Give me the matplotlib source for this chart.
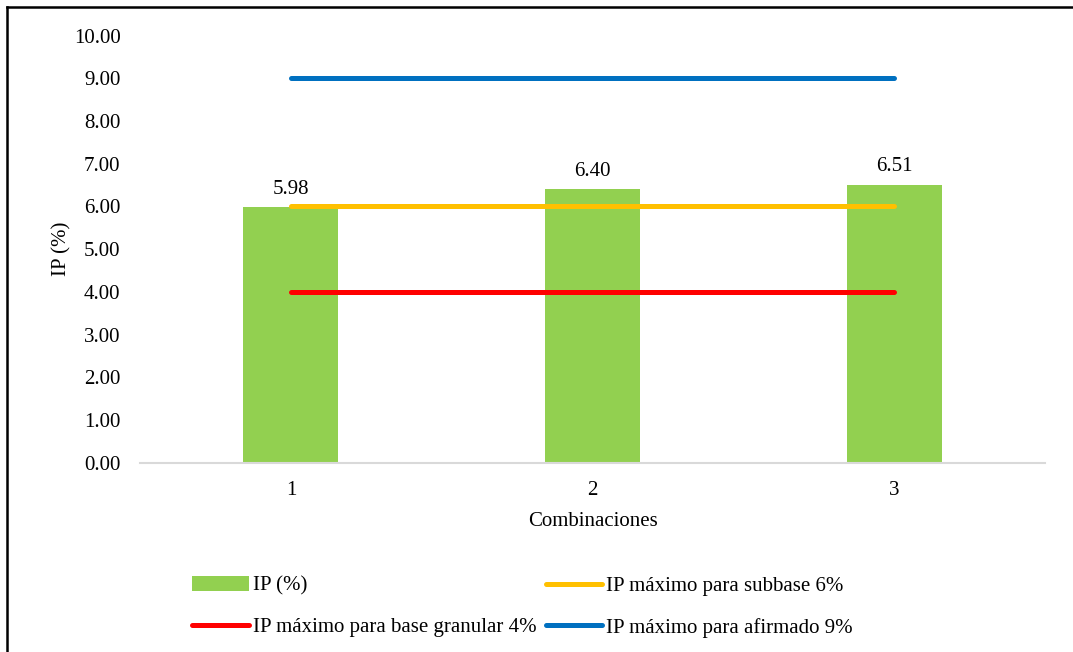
import matplotlib.pyplot as plt
import numpy as np

plt.rcParams['font.family'] = ['Liberation Serif', 'DejaVu Serif']

categorias = ['1', '2', '3']
ip = [5.98, 6.40, 6.51]
ip_subbase = [6, 6, 6]
ip_base = [4, 4, 4]
ip_afirmado = [9, 9, 9]
yticks = [0, 1, 2, 3, 4, 5, 6, 7, 8, 9, 10]

fig = plt.figure(figsize=(10.73, 6.52), dpi=100)
ax = fig.add_axes([0.1305, 0.29, 0.8435, 0.6555])

x = np.arange(len(categorias))
bars = ax.bar(x, ip, width=0.315, color='#92D050', label='IP (%)', zorder=2)
l_base, = ax.plot(x, ip_base, color='#FF0000', lw=3.6, solid_capstyle='round',
                  label='IP máximo para base granular 4%', zorder=3)
l_sub, = ax.plot(x, ip_subbase, color='#FFC000', lw=3.6, solid_capstyle='round',
                 label='IP máximo para subbase 6%', zorder=3)
l_afi, = ax.plot(x, ip_afirmado, color='#0070C0', lw=3.6, solid_capstyle='round',
                 label='IP máximo para afirmado 9%', zorder=3)

for xi, v in zip(x, ip):
    ax.annotate(f'{v:.2f}', (xi, v), xytext=(0, 6), textcoords='offset points',
                ha='center', va='bottom', fontsize=15)

ax.set_xlim(-0.5, 2.5)
ax.set_ylim(0, 10)
ax.set_xticks(x)
ax.set_xticklabels(categorias)
ax.set_yticks(yticks)
ax.set_yticklabels([f'{t:.2f}' for t in yticks])
ax.tick_params(length=0, labelsize=15)
ax.tick_params(axis='y', pad=14)
ax.tick_params(axis='x', pad=13)
for s in ['top', 'right', 'left']:
    ax.spines[s].set_visible(False)
ax.spines['bottom'].set_color('#D9D9D9')
ax.spines['bottom'].set_linewidth(1.5)

ax.set_xlabel('Combinaciones', fontsize=15, labelpad=9)
ax.set_ylabel('IP (%)', fontsize=15, labelpad=2)

fig.legend([bars, l_base, l_sub, l_afi],
           ['IP (%)', 'IP máximo para base granular 4%',
            'IP máximo para subbase 6%', 'IP máximo para afirmado 9%'],
           ncol=2, loc='center', bbox_to_anchor=(0.487, 0.069), frameon=False,
           fontsize=15, handlelength=2.7, handletextpad=0.2, columnspacing=0.44,
           labelspacing=1.05)

# marco del grafico (borde superior e izquierdo)
fig.add_artist(plt.Line2D([7 / 1073, 7 / 1073], [-0.1, 1 - 7 / 652],
                          transform=fig.transFigure, color='black', lw=1.8))
fig.add_artist(plt.Line2D([7 / 1073, 1.1], [1 - 7 / 652, 1 - 7 / 652],
                          transform=fig.transFigure, color='black', lw=1.8))

fig.savefig('out.png', dpi=100)
